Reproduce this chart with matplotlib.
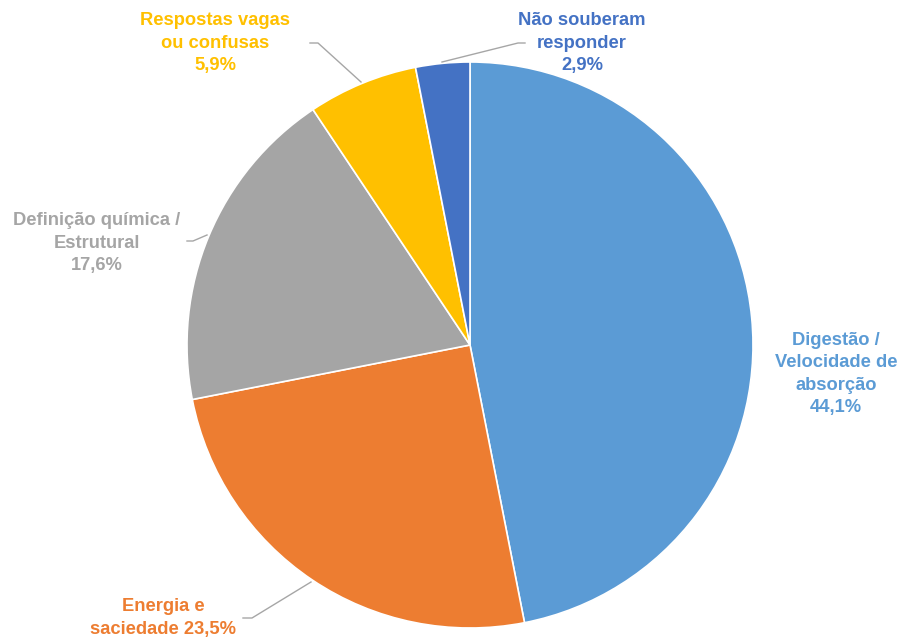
import matplotlib
matplotlib.use("Agg")
import matplotlib.pyplot as plt

categorias = ["Digestão /\nVelocidade de\nabsorção", "Energia e\nsaciedade", "Definição química /\nEstrutural",
              "Respostas vagas\nou confusas", "Não souberam\nresponder"]
percentuais = [44.1, 23.5, 17.6, 5.9, 2.9]
cores = ["#5B9BD5", "#ED7D31", "#A5A5A5", "#FFC000", "#4472C4"]

# posicoes dos rotulos (px) e das linhas guia
pos_rotulos = [(836, 374), (163, 618), (97, 243), (215, 43), (582, 43)]
separador = ["\n", " ", "\n", "\n", "\n"]
guias = {
    1: [(243, 618), (252, 618), (311, 582)],
    2: [(187, 241), (193, 241), (207, 235)],
    3: [(310, 43), (318, 43), (361, 82)],
    4: [(442, 62), (518, 43), (525, 43)],
}

W, H = 898, 641
fig = plt.figure(figsize=(W / 100, H / 100), dpi=100)
ax = fig.add_axes([0, 0, 1, 1])

ax.pie(percentuais, colors=cores, startangle=90, counterclock=False,
       center=(470, H - 345), radius=283, frame=True,
       wedgeprops=dict(edgecolor="white", linewidth=1.2))
ax.set_xlim(0, W)
ax.set_ylim(0, H)
ax.set_aspect("equal")
ax.axis("off")

for i, (cat, val, cor) in enumerate(zip(categorias, percentuais, cores)):
    txt = f"{cat}{separador[i]}{val:.1f}%".replace(".", ",")
    x, y = pos_rotulos[i]
    ax.text(x, H - y, txt, ha="center", va="center", color=cor,
            fontsize=13.2, fontweight="bold", family="Liberation Sans",
            linespacing=1.42)

for i, pts in guias.items():
    xs = [p[0] for p in pts]
    ys = [H - p[1] for p in pts]
    ax.plot(xs, ys, color="#A6A6A6", linewidth=1)

fig.savefig("out.png", dpi=100)
